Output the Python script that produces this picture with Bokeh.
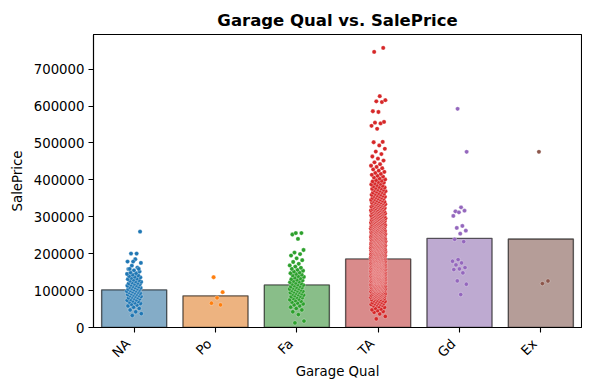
import numpy as np
from bokeh.plotting import figure
from bokeh.models import FixedTicker, Range1d, ColumnDataSource, NumeralTickFormatter, LinearAxis
from bokeh.embed import file_html
from bokeh.resources import INLINE

# ---------------- data ----------------
categories = ["NA", "Po", "Fa", "TA", "Gd", "Ex"]
mean_price = [102000, 85800, 115500, 185900, 241600, 240000]
point_colors = ["#1f77b4", "#ff7f0e", "#2ca02c", "#d62728", "#9467bd", "#8c564b"]
bar_colors = ["#3274a1", "#e1812c", "#3a923a", "#c03d3e", "#9372b2", "#845b53"]

# NA: histogram (10k bins) + isolated high points
na_bin_start = [30000, 40000, 50000, 60000, 70000, 80000, 90000, 100000, 110000,
                120000, 130000, 140000, 150000, 160000, 170000, 180000]
na_counts = [2, 2, 3, 5, 7, 9, 9, 9, 8, 7, 6, 5, 3, 2, 1, 1]
na_extra = [158700, 158700, 178600, 178600, 200200, 200200, 259700]

# Po: individual points
po_values = [136200, 95600, 80300, 65800, 61300]

# Fa: histogram (10k bins) + isolated high points
fa_bin_start = [10000, 30000, 40000, 50000, 60000, 70000, 80000, 90000, 100000, 110000,
                120000, 130000, 140000, 150000, 160000, 170000, 180000, 190000]
fa_counts = [2, 1, 2, 3, 4, 5, 7, 8, 8, 7, 6, 5, 5, 4, 3, 2, 2, 1]
fa_extra = [199000, 203000, 210000, 240000, 252000, 256000, 256000]

# TA: histogram (20k bins) + isolated high points
ta_bin_start = [20000, 40000, 60000, 80000, 100000, 120000, 140000, 160000, 180000,
                200000, 220000, 240000, 260000, 280000, 300000, 320000, 340000,
                360000, 380000, 400000, 420000, 440000, 460000]
ta_counts = [3, 9, 20, 42, 62, 78, 84, 80, 72, 66, 60, 52, 44, 36, 30,
             25, 19, 16, 12, 8, 6, 4, 3]
ta_extra = [484300, 493300, 502000, 503000, 538400, 546500, 553000, 555000, 557000,
            584000, 586000, 611000, 613000, 616000, 626800, 746800, 757600]

# Gd: individual points
gd_values = [592500, 476000, 325600, 314700, 316500, 312000, 302200, 275100, 269700,
             262400, 254300, 239000, 232700, 184000, 179500, 175000, 169600, 162300,
             158700, 157000, 148000, 126300, 117200, 89300]

# Ex: individual points
ex_values = [476000, 126000, 119000]

y_ticks = [0, 100000, 200000, 300000, 400000, 500000, 600000, 700000]


def expand(starts, counts, width):
    out = []
    for lo, n in zip(starts, counts):
        for k in range(n):
            out.append(lo + (k + 0.5) * width / n)
    return out


groups = [
    expand(na_bin_start, na_counts, 10000) + na_extra,
    po_values,
    expand(fa_bin_start, fa_counts, 10000) + fa_extra,
    expand(ta_bin_start, ta_counts, 20000) + ta_extra,
    gd_values,
    ex_values,
]

FONT = "DejaVu Sans"
FS = "13.3px"

p = figure(width=582, height=381, output_backend="svg", toolbar_location=None,
           x_range=Range1d(-0.5, 5.5), y_range=Range1d(0, 794000),
           min_border_left=93, min_border_right=1, min_border_top=34, min_border_bottom=40)

p.title.text = "Garage Qual vs. SalePrice"
p.title.text_font = FONT
p.title.text_font_size = "16.5px"
p.title.text_font_style = "bold"
p.title.align = "center"
p.title.text_color = "black"

# bars
bar_src = ColumnDataSource(dict(x=list(range(len(categories))), top=mean_price, color=bar_colors))
p.vbar(x="x", top="top", width=0.8, source=bar_src, fill_color="color", fill_alpha=0.6,
       line_color="black", line_alpha=0.6, line_width=1.4)

# strip points (deterministic jitter spread)
for i, vals in enumerate(groups):
    n = len(vals)
    offs = ((np.arange(n) * 0.6180339887 + 0.37) % 1.0 - 0.5) * 0.18
    src = ColumnDataSource(dict(x=i + offs, y=vals))
    p.scatter(x="x", y="y", source=src, size=4.3, fill_color=point_colors[i],
              line_color="white", line_width=0.3)

# axes
p.xgrid.visible = False
p.ygrid.visible = False
p.outline_line_color = "black"
p.outline_line_width = 1.1

# main x axis: ticks only
xa = p.xaxis[0]
xa.ticker = FixedTicker(ticks=list(range(len(categories))))
xa.major_label_overrides = {i: "" for i in range(len(categories))}
xa.major_label_text_font_size = "1px"
xa.major_label_standoff = 0

# label axis: rotated category names, right-aligned like matplotlib
label_shift = 0.075
label_ticks = [i - label_shift for i in range(len(categories))]
la = LinearAxis(ticker=FixedTicker(ticks=label_ticks),
                major_label_overrides={t: c for t, c in zip(label_ticks, categories)},
                major_label_orientation=np.pi / 4,
                axis_line_color=None, major_tick_line_color=None, minor_tick_line_color=None,
                major_tick_out=0, major_tick_in=0, major_label_standoff=9,
                axis_label="Garage Qual")
p.add_layout(la, "below")

p.yaxis.ticker = FixedTicker(ticks=y_ticks)
p.yaxis.formatter = NumeralTickFormatter(format="0")
p.yaxis.axis_label = "SalePrice"

for ax in (xa, la, p.yaxis[0]):
    ax.axis_label_text_font = FONT
    ax.axis_label_text_font_size = FS
    ax.axis_label_text_font_style = "normal"
    ax.axis_label_text_color = "black"
    ax.major_label_text_font = FONT
    ax.major_label_text_color = "black"
    ax.minor_tick_line_color = None
    ax.axis_label_standoff = 6

la.axis_label_standoff = -5
la.major_label_text_font_size = FS
p.yaxis[0].major_label_text_font_size = FS
p.yaxis[0].major_label_standoff = 4

for ax in (xa, p.yaxis[0]):
    ax.axis_line_color = "black"
    ax.axis_line_width = 1.1
    ax.major_tick_line_color = "black"
    ax.major_tick_line_width = 1.1
    ax.major_tick_out = 5
    ax.major_tick_in = 0

open("out.html", "w").write(file_html(p, INLINE))
